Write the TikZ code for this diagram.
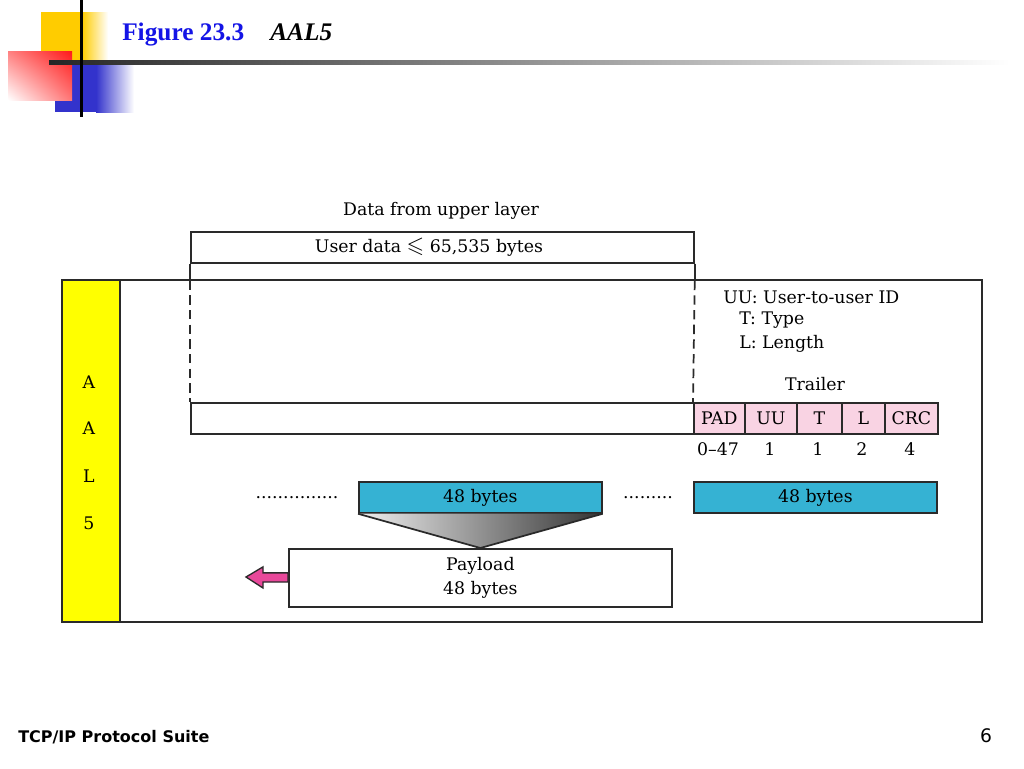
\documentclass[tikz,border=0pt]{standalone}
\usepackage{amssymb}
\usepackage{fontspec}
\newfontfamily\timesf{Liberation Serif}
\newfontfamily\dejavu{DejaVu Sans}
\newfontfamily\bodyserif{DejaVu Serif}
\usetikzlibrary{calc,shadings}
\definecolor{titleblue}{HTML}{1414E6}
\definecolor{logoyellow}{HTML}{FFCC00}
\definecolor{logored}{HTML}{FF1A1A}
\definecolor{logoblue}{HTML}{3333CC}
\definecolor{aalyellow}{HTML}{FFFF00}
\definecolor{fieldpink}{HTML}{F9D3E3}
\definecolor{cellcyan}{HTML}{35B2D3}
\definecolor{arrowpink}{HTML}{E8489A}
\definecolor{linecol}{HTML}{2A2A2A}
\newcommand\pbox[7]{\node[#6, anchor=north west, inner sep=0pt,
  minimum width={(#4-#2)*0.75pt}, minimum height={(#5-#3)*0.75pt}] (#1) at (#2,#3) {#7};}
\tikzset{
  bodyfont/.style={font=\bodyserif\fontsize{13}{18}\selectfont},
  plainbox/.style={draw=linecol, line width=1.3pt, fill=white, bodyfont, align=center},
  fieldbox/.style={plainbox, fill=fieldpink},
  cellbox/.style={plainbox, fill=cellcyan},
  lbl/.style={bodyfont, inner sep=0pt},
  guide/.style={draw=linecol, line width=1.3pt},
}
\begin{document}
\begin{tikzpicture}[x=0.75pt,y=-0.75pt]
\useasboundingbox (0,0) rectangle (1024,768);
\fill[white] (0,0) rectangle (1024,768);
% logo
\fill[logoyellow] (41,12) rectangle (82,62);
\shade[left color=logoyellow, right color=white] (82,12) rectangle (108,62);
\fill[logoblue] (55,63) rectangle (96,112);
\shade[left color=logoblue, right color=white] (96,63) rectangle (134,112);
\shade[upper right=logored, upper left=logored!55!white, lower right=logored!60!white, lower left=white] (8,51) rectangle (72,100);
\shade[left color=black!85, right color=white] (49,60) rectangle (1010,64);
\fill[black] (80,0) rectangle (83,117);
% title
\node[anchor=base west, inner sep=0pt, text=titleblue, font=\timesf\bfseries\fontsize{19}{22}\selectfont] (fig) at (122,40) {Figure 23.3};
\node[anchor=base west, inner sep=0pt, font=\timesf\bfseries\itshape\fontsize{19}{22}\selectfont] (ttl) at (270,40) {AAL5};
% frame
\pbox{frame}{61}{279}{981}{621}{plainbox}{}
\pbox{aal}{61}{279}{119}{621}{plainbox, fill=aalyellow}{}
\node[lbl] (a1) at (89,382) {A};
\node[lbl] (a2) at (89,428) {A};
\node[lbl] (a3) at (89,476) {L};
\node[lbl] (a4) at (89,523) {5};
% user data
\node[lbl] (dful) at (441,211) {Data from upper layer};
\pbox{ud}{190}{231}{693}{262}{plainbox}{}
\node[lbl] (udt) at (429,247) {User data {\fontsize{17}{18}\selectfont$\leqslant$} 65,535 bytes};
% lower row
\pbox{low}{190}{402}{693}{433}{plainbox}{}
\pbox{pad}{693}{402}{744}{433}{fieldbox}{PAD}
\pbox{uu}{744}{402}{796}{433}{fieldbox}{UU}
\pbox{tt}{796}{402}{841}{433}{fieldbox}{T}
\pbox{ll}{841}{402}{884}{433}{fieldbox}{L}
\pbox{crc}{884}{402}{937}{433}{fieldbox}{CRC}
% guides
\coordinate (gl) at ($(ud.south west)+(0,17)$);
\coordinate (gr) at ($(ud.south east)+(0,17)$);
\draw[guide] (ud.south west) -- (gl);
\draw[guide] (ud.south east) -- (gr);
\draw[guide, dash pattern=on 7pt off 4pt] (gl) -- (low.north west);
\draw[guide, dash pattern=on 7pt off 4pt] (gr) -- (pad.north west);
% legend
\node[lbl, anchor=west] (lguu) at (723,297) {UU: User-to-user ID};
\node[lbl, anchor=west] (lgt) at (739,320) {T: Type};
\node[lbl, anchor=west] (lgl) at (739,344) {L: Length};
\node[lbl] (trl) at (815,384) {Trailer};
% sizes
\node[lbl] (n1) at (718,449) {0\textendash 47};
\node[lbl] (n2) at (770,449) {1};
\node[lbl] (n3) at (818,449) {1};
\node[lbl] (n4) at (862,449) {2};
\node[lbl] (n5) at (910,449) {4};
% cells
\pbox{ca}{358}{481}{601}{512}{cellbox}{48 bytes}
\pbox{cb}{693}{481}{936}{512}{cellbox}{48 bytes}
\node[lbl, anchor=base] (d1) at (297,498) {...............};
\node[lbl, anchor=base] (d2) at (648,498) {.........};
% payload
\pbox{pay}{288}{548}{671}{606}{plainbox}{Payload\\48 bytes}
\shade[left color=gray!12, right color=black!80] (ca.south west) -- (ca.south east) -- (pay.north) -- cycle;
\draw[guide, line join=round] (ca.south west) -- (pay.north) -- (ca.south east);
\coordinate (arrtip) at (246,577);
\filldraw[fill=arrowpink, draw=linecol, line width=1pt]
  ($(pay.west)+(0,-5)$) -- ++(-25,0) -- ++(0,-6) -- (arrtip) -- ++(17,11) -- ++(0,-6) -- ++(25,0) -- cycle;
% footer
\node[anchor=base west, inner sep=0pt, font=\dejavu\bfseries\fontsize{12}{14}\selectfont] (foot) at (18,742) {TCP/IP Protocol Suite};
\node[inner sep=0pt, font=\dejavu\fontsize{14}{16}\selectfont] (pg) at (986,736) {6};
\end{tikzpicture}
\end{document}
